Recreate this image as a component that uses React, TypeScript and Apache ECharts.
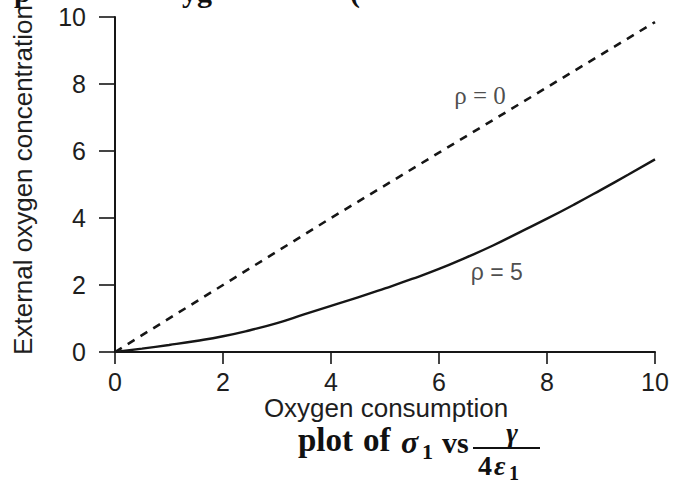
import React, { useEffect, useRef } from "react";
import * as echarts from "echarts";

const xTickValues = [0, 2, 4, 6, 8, 10];
const yTickValues = [0, 2, 4, 6, 8, 10];

const rho0X = [0, 2, 4, 6, 8, 10];
const rho0Y = [0, 2.0, 4.0, 5.95, 7.9, 9.85];

const rho5X = [0, 0.5, 1, 1.5, 2, 2.5, 3, 3.5, 4, 4.5, 5, 5.5, 6, 6.5, 7, 7.5, 8, 8.5, 9, 9.5, 10];
const rho5Y = [0, 0.1, 0.21, 0.33, 0.47, 0.65, 0.86, 1.12, 1.38, 1.63, 1.9, 2.18, 2.48, 2.82, 3.18, 3.58, 3.98, 4.4, 4.84, 5.29, 5.75];

const curveLabels = [
  { text: "ρ = 0", x: 6.76, y: 7.67 },
  { text: "ρ = 5", x: 7.07, y: 2.39 },
];

const xAxisName = "Oxygen consumption";
const yAxisName = "External oxygen concentration";

export default function App() {
  const ref = useRef<HTMLDivElement>(null);
  useEffect(() => {
    if (!ref.current) return;
    const chart = echarts.init(ref.current, undefined, { renderer: "svg" });
    const ink = "#161616";
    const txt = "#1e1e1e";
    const sans = "'Liberation Sans', Arial, sans-serif";
    const serif = "'Liberation Serif', 'Times New Roman', serif";
    const bold = (size: number) => "bold " + size + "px " + serif;
    const boldIt = (size: number) => "italic bold " + size + "px " + serif;
    const t = (text: string, x: number, y: number, font: string, align = "left") => ({
      type: "text",
      x,
      y,
      style: { text, font, fill: "#111", align, verticalAlign: "middle" },
    });
    chart.setOption({
      animation: false,
      backgroundColor: "#ffffff",
      grid: { left: 115, right: 22, top: 17, bottom: 135, containLabel: false },
      xAxis: {
        type: "value",
        min: 0,
        max: 10,
        interval: 2,
        axisLine: { show: true, onZero: true, lineStyle: { color: ink, width: 2 } },
        axisTick: { show: true, inside: false, length: 12, lineStyle: { color: ink, width: 1.6 } },
        axisLabel: {
          fontSize: 25,
          fontFamily: sans,
          color: txt,
          margin: 17,
          formatter: (v: number) => (xTickValues.includes(v) ? String(v) : ""),
        },
        splitLine: { show: false },
      },
      yAxis: {
        type: "value",
        min: 0,
        max: 10,
        interval: 2,
        axisLine: { show: true, onZero: false, lineStyle: { color: ink, width: 2 } },
        axisTick: { show: true, inside: false, length: 16, lineStyle: { color: ink, width: 1.6 } },
        axisLabel: {
          fontSize: 25,
          fontFamily: sans,
          color: txt,
          margin: 29,
          formatter: (v: number) => (yTickValues.includes(v) ? String(v) : ""),
        },
        splitLine: { show: false },
      },
      series: [
        {
          name: "rho0",
          type: "line",
          data: rho0X.map((x, i) => [x, rho0Y[i]]),
          showSymbol: false,
          symbol: "none",
          lineStyle: { color: ink, width: 2.6, type: [8, 7] },
          z: 3,
        },
        {
          name: "rho5",
          type: "line",
          data: rho5X.map((x, i) => [x, rho5Y[i]]),
          showSymbol: false,
          symbol: "none",
          smooth: true,
          lineStyle: { color: ink, width: 2.4 },
          z: 3,
        },
        {
          name: "labels",
          type: "scatter",
          symbolSize: 0,
          itemStyle: { color: "transparent" },
          data: curveLabels.map((l, i) => ({
            value: [l.x, l.y],
            label: {
              show: true,
              position: "inside",
              formatter: l.text,
              fontSize: i === 0 ? 25 : 23,
              fontFamily: i === 0 ? "Liberation Serif" : "Liberation Sans",
              color: txt,
            },
          })),
          z: 4,
        },
      ],
      graphic: [
        { type: "text", left: 14, top: -24, style: { text: "p", font: bold(30), fill: "#111" } },
        { type: "text", left: 182, top: -24, style: { text: "yg", font: bold(30), fill: "#111" } },
        { type: "text", left: 350, top: -24, style: { text: "(", font: bold(30), fill: "#111" } },
        {
          type: "text",
          x: 23,
          y: 180,
          rotation: Math.PI / 2,
          style: {
            text: yAxisName,
            font: "26px " + sans,
            fill: txt,
            align: "center",
            verticalAlign: "middle",
          },
        },
        {
          type: "text",
          x: 386,
          y: 408,
          style: {
            text: xAxisName,
            font: "26px " + sans,
            fill: txt,
            align: "center",
            verticalAlign: "middle",
          },
        },
        t("plot", 298, 440, bold(33)),
        t("of", 363, 440, bold(33)),
        t("σ", 401, 442, boldIt(32)),
        t("1", 422, 451, bold(22)),
        t("vs", 442, 442, bold(30)),
        t("γ", 512, 432, boldIt(28), "center"),
        { type: "line", shape: { x1: 473, y1: 448, x2: 540, y2: 448 }, style: { stroke: "#111", lineWidth: 2 } },
        t("4", 478, 465, bold(28)),
        t("ε", 494, 465, boldIt(28)),
        t("1", 509, 473, bold(20)),
      ],
    });
    return () => chart.dispose();
  }, []);
  return (
    <div
      ref={ref}
      style={{ position: "fixed", left: 0, top: 0, width: 677, height: 487, background: "#fff" }}
    />
  );
}
